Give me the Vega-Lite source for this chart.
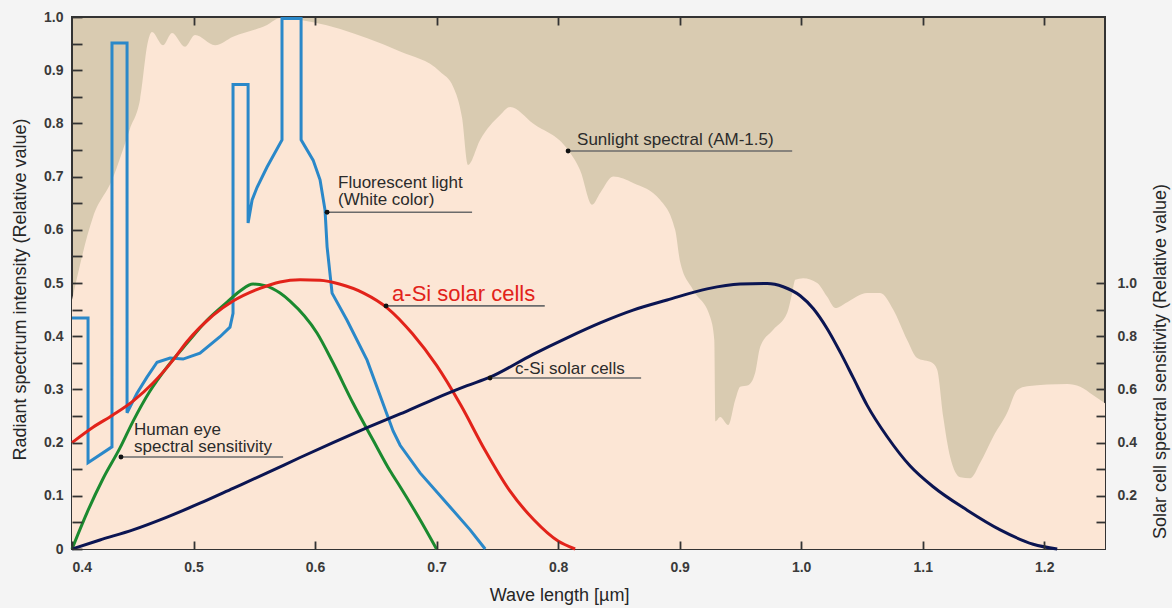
{
  "$schema": "https://vega.github.io/schema/vega-lite/v6.json",
  "width": 1033,
  "height": 532,
  "autosize": {"type": "none"},
  "padding": {"left": 72, "top": 17, "right": 67, "bottom": 59},
  "background": "#f4f4f4",
  "config": {
    "view": {"fill": "#d9cbb1", "stroke": "#333333", "strokeWidth": 2},
    "font": "Liberation Sans"
  },
  "datasets": {
    "sun": [
      {"w": 0.4, "v": 0.468}, {"w": 0.4173, "v": 0.624}, {"w": 0.433, "v": 0.694}, {"w": 0.4477, "v": 0.79},
      {"w": 0.456, "v": 0.845}, {"w": 0.4626, "v": 0.955}, {"w": 0.4658, "v": 0.972}, {"w": 0.4749, "v": 0.947},
      {"w": 0.4823, "v": 0.97}, {"w": 0.493, "v": 0.944}, {"w": 0.5012, "v": 0.966}, {"w": 0.5177, "v": 0.947},
      {"w": 0.5325, "v": 0.963}, {"w": 0.5605, "v": 0.985}, {"w": 0.5712, "v": 0.998}, {"w": 0.5984, "v": 0.99},
      {"w": 0.643, "v": 0.96}, {"w": 0.67, "v": 0.935}, {"w": 0.7029, "v": 0.897}, {"w": 0.7136, "v": 0.869},
      {"w": 0.721, "v": 0.81}, {"w": 0.7259, "v": 0.722}, {"w": 0.7358, "v": 0.769}, {"w": 0.7523, "v": 0.816},
      {"w": 0.7605, "v": 0.831}, {"w": 0.7794, "v": 0.8}, {"w": 0.8082, "v": 0.75}, {"w": 0.8181, "v": 0.712},
      {"w": 0.828, "v": 0.647}, {"w": 0.8346, "v": 0.669}, {"w": 0.8453, "v": 0.7}, {"w": 0.8617, "v": 0.688},
      {"w": 0.884, "v": 0.656}, {"w": 0.8963, "v": 0.6}, {"w": 0.9004, "v": 0.54}, {"w": 0.9111, "v": 0.487},
      {"w": 0.9251, "v": 0.436}, {"w": 0.9285, "v": 0.393}, {"w": 0.9295, "v": 0.24}, {"w": 0.9333, "v": 0.248},
      {"w": 0.94, "v": 0.233}, {"w": 0.9457, "v": 0.28}, {"w": 0.9498, "v": 0.305}, {"w": 0.9564, "v": 0.308},
      {"w": 0.9621, "v": 0.331}, {"w": 0.9663, "v": 0.38}, {"w": 0.977, "v": 0.412}, {"w": 0.9885, "v": 0.444},
      {"w": 0.9926, "v": 0.481}, {"w": 0.9951, "v": 0.506}, {"w": 1.0016, "v": 0.509}, {"w": 1.0132, "v": 0.5},
      {"w": 1.0214, "v": 0.474}, {"w": 1.028, "v": 0.453}, {"w": 1.0379, "v": 0.464}, {"w": 1.0543, "v": 0.481},
      {"w": 1.065, "v": 0.481}, {"w": 1.0757, "v": 0.45}, {"w": 1.0872, "v": 0.393}, {"w": 1.0955, "v": 0.359},
      {"w": 1.1078, "v": 0.35}, {"w": 1.1119, "v": 0.337}, {"w": 1.1169, "v": 0.248}, {"w": 1.1226, "v": 0.173},
      {"w": 1.1309, "v": 0.135}, {"w": 1.1391, "v": 0.133}, {"w": 1.1473, "v": 0.162}, {"w": 1.158, "v": 0.211},
      {"w": 1.1695, "v": 0.256}, {"w": 1.1778, "v": 0.299}, {"w": 1.186, "v": 0.306}, {"w": 1.2189, "v": 0.31},
      {"w": 1.2296, "v": 0.305}, {"w": 1.2403, "v": 0.289}, {"w": 1.25, "v": 0.274}
    ],
    "fl": [
      {"i": 1, "w": 0.4, "v": 0.434}, {"i": 2, "w": 0.4132, "v": 0.434}, {"i": 3, "w": 0.4132, "v": 0.162},
      {"i": 4, "w": 0.4329, "v": 0.192}, {"i": 5, "w": 0.4329, "v": 0.951}, {"i": 6, "w": 0.4453, "v": 0.951},
      {"i": 7, "w": 0.4453, "v": 0.256}, {"i": 8, "w": 0.4535, "v": 0.293}, {"i": 9, "w": 0.4617, "v": 0.323},
      {"i": 10, "w": 0.47, "v": 0.351}, {"i": 11, "w": 0.4807, "v": 0.359}, {"i": 12, "w": 0.4914, "v": 0.357},
      {"i": 13, "w": 0.5053, "v": 0.368}, {"i": 14, "w": 0.5218, "v": 0.399}, {"i": 15, "w": 0.53, "v": 0.417},
      {"i": 16, "w": 0.5325, "v": 0.443}, {"i": 17, "w": 0.5325, "v": 0.873}, {"i": 18, "w": 0.5449, "v": 0.873},
      {"i": 19, "w": 0.5449, "v": 0.613}, {"i": 20, "w": 0.5482, "v": 0.656}, {"i": 21, "w": 0.5523, "v": 0.68},
      {"i": 22, "w": 0.5605, "v": 0.718}, {"i": 23, "w": 0.5728, "v": 0.769}, {"i": 24, "w": 0.5728, "v": 0.997},
      {"i": 25, "w": 0.5885, "v": 0.997}, {"i": 26, "w": 0.5885, "v": 0.769}, {"i": 27, "w": 0.5984, "v": 0.731},
      {"i": 28, "w": 0.6041, "v": 0.694}, {"i": 29, "w": 0.6082, "v": 0.637}, {"i": 30, "w": 0.6099, "v": 0.568},
      {"i": 31, "w": 0.614, "v": 0.481}, {"i": 32, "w": 0.6263, "v": 0.43}, {"i": 33, "w": 0.6428, "v": 0.355},
      {"i": 34, "w": 0.6642, "v": 0.222}, {"i": 35, "w": 0.67, "v": 0.195}, {"i": 36, "w": 0.6864, "v": 0.143},
      {"i": 37, "w": 0.7111, "v": 0.079}, {"i": 38, "w": 0.7276, "v": 0.036}, {"i": 39, "w": 0.74, "v": 0}
    ],
    "eye": [
      {"w": 0.4, "v": 0}, {"w": 0.4123, "v": 0.068}, {"w": 0.4255, "v": 0.132}, {"w": 0.4395, "v": 0.19},
      {"w": 0.4502, "v": 0.24}, {"w": 0.4642, "v": 0.297}, {"w": 0.4782, "v": 0.342}, {"w": 0.4947, "v": 0.387},
      {"w": 0.5111, "v": 0.43}, {"w": 0.5276, "v": 0.464}, {"w": 0.5383, "v": 0.485}, {"w": 0.549, "v": 0.498},
      {"w": 0.5588, "v": 0.495}, {"w": 0.5712, "v": 0.481}, {"w": 0.5794, "v": 0.466}, {"w": 0.6016, "v": 0.406},
      {"w": 0.6148, "v": 0.35}, {"w": 0.6313, "v": 0.274}, {"w": 0.6477, "v": 0.205}, {"w": 0.6617, "v": 0.147},
      {"w": 0.67, "v": 0.117}, {"w": 0.6864, "v": 0.055}, {"w": 0.7, "v": 0}
    ],
    "asi": [
      {"w": 0.4, "r": 0.4}, {"w": 0.4173, "r": 0.458}, {"w": 0.4337, "r": 0.504}, {"w": 0.4502, "r": 0.556},
      {"w": 0.4667, "r": 0.624}, {"w": 0.4831, "r": 0.71}, {"w": 0.4947, "r": 0.78}, {"w": 0.516, "r": 0.878},
      {"w": 0.5325, "r": 0.932}, {"w": 0.5547, "r": 0.98}, {"w": 0.5712, "r": 1.004}, {"w": 0.5877, "r": 1.012},
      {"w": 0.6041, "r": 1.01}, {"w": 0.62, "r": 0.996}, {"w": 0.64, "r": 0.962}, {"w": 0.66, "r": 0.904},
      {"w": 0.68, "r": 0.81}, {"w": 0.7, "r": 0.69}, {"w": 0.72, "r": 0.54}, {"w": 0.74, "r": 0.37},
      {"w": 0.76, "r": 0.22}, {"w": 0.78, "r": 0.11}, {"w": 0.8, "r": 0.03}, {"w": 0.814, "r": 0}
    ],
    "csi": [
      {"w": 0.4, "r": 0}, {"w": 0.423, "r": 0.034}, {"w": 0.4502, "r": 0.072}, {"w": 0.4782, "r": 0.12},
      {"w": 0.5053, "r": 0.172}, {"w": 0.5325, "r": 0.228}, {"w": 0.5605, "r": 0.286}, {"w": 0.5877, "r": 0.344},
      {"w": 0.6148, "r": 0.4}, {"w": 0.6428, "r": 0.456}, {"w": 0.67, "r": 0.508}, {"w": 0.6971, "r": 0.562},
      {"w": 0.7251, "r": 0.614}, {"w": 0.744, "r": 0.646}, {"w": 0.7794, "r": 0.732}, {"w": 0.8074, "r": 0.794},
      {"w": 0.8346, "r": 0.85}, {"w": 0.8617, "r": 0.898}, {"w": 0.8897, "r": 0.936}, {"w": 0.9226, "r": 0.978},
      {"w": 0.9498, "r": 0.996}, {"w": 0.972, "r": 0.998}, {"w": 0.9852, "r": 0.986}, {"w": 0.9992, "r": 0.952},
      {"w": 1.0099, "r": 0.904}, {"w": 1.0214, "r": 0.828}, {"w": 1.0321, "r": 0.74}, {"w": 1.0428, "r": 0.644},
      {"w": 1.0543, "r": 0.54}, {"w": 1.0708, "r": 0.422}, {"w": 1.0897, "r": 0.312}, {"w": 1.1086, "r": 0.234},
      {"w": 1.1366, "r": 0.146}, {"w": 1.1638, "r": 0.072}, {"w": 1.1909, "r": 0.018}, {"w": 1.2107, "r": 0}
    ],
    "ann": [
      {"k": "sun", "w": 0.8082, "w2": 0.9926, "v": 0.748},
      {"k": "fl", "w": 0.6099, "w2": 0.7292, "v": 0.633},
      {"k": "asi", "w": 0.6584, "w2": 0.789, "v": 0.457},
      {"k": "csi", "w": 0.744, "w2": 0.8683, "v": 0.3214},
      {"k": "eye", "w": 0.4403, "w2": 0.5737, "v": 0.173}
    ],
    "labels": [
      {"k": "sun", "t": "Sunlight spectral (AM-1.5)", "w": 0.8156, "v": 0.759},
      {"k": "fl", "t": "Fluorescent light", "w": 0.6189, "v": 0.6786},
      {"k": "fl", "t": "(White color)", "w": 0.6189, "v": 0.6466},
      {"k": "asi", "t": "a-Si solar cells", "w": 0.6634, "v": 0.466},
      {"k": "csi", "t": "c-Si solar cells", "w": 0.7646, "v": 0.329},
      {"k": "eye", "t": "Human eye", "w": 0.451, "v": 0.2143},
      {"k": "eye", "t": "spectral sensitivity", "w": 0.451, "v": 0.1823}
    ]
  },
  "resolve": {"scale": {"y": "independent"}, "axis": {"x": "independent", "y": "independent"}},
  "layer": [
    {
      "encoding": {
        "x": {
          "field": "w", "type": "quantitative",
          "scale": {"domain": [0.4, 1.25], "nice": false, "zero": false},
          "axis": {
            "orient": "bottom",
            "zindex": 1,
            "grid": false,
            "domain": false,
            "ticks": true,
            "tickColor": "#333333",
            "tickWidth": 1.8,
            "values": [0.4, 0.5, 0.6, 0.7, 0.8, 0.9, 1.0, 1.1, 1.2],
            "format": ".1f",
            "offset": -8,
            "tickSize": 8,
            "labelPadding": 11,
            "labelFont": "Liberation Sans",
            "labelFontSize": 14,
            "labelFontWeight": "bold",
            "labelColor": "#3a3a3a",
            "title": "Wave length [µm]",
            "titleFont": "Liberation Sans",
            "titleFontSize": 18,
            "titleFontWeight": "normal",
            "titleColor": "#262626",
            "titleX": 487,
            "titleY": 59,
            "titleBaseline": "alphabetic"
          }
        },
        "y": {
          "field": "v", "type": "quantitative",
          "scale": {"domain": [0, 1], "nice": false, "zero": false},
          "axis": {
            "orient": "left",
            "zindex": 1,
            "grid": false,
            "domain": false,
            "ticks": true,
            "tickColor": "#333333",
            "tickWidth": 1.8,
            "values": [0, 0.05, 0.1, 0.15, 0.2, 0.25, 0.3, 0.35, 0.4, 0.45, 0.5, 0.55, 0.6, 0.65, 0.7, 0.75, 0.8, 0.85, 0.9, 0.95, 1.0],
            "labelExpr": "datum.value == 0 ? '0' : (round(datum.value * 100) % 10 == 0 ? format(datum.value, '.1f') : '')",
            "offset": -10,
            "tickSize": 10,
            "labelPadding": 9,
            "labelFont": "Liberation Sans",
            "labelFontSize": 14,
            "labelFontWeight": "bold",
            "labelColor": "#3a3a3a",
            "title": "Radiant spectrum intensity (Relative value)",
            "titleFont": "Liberation Sans",
            "titleFontSize": 18,
            "titleFontWeight": "normal",
            "titleColor": "#262626",
            "titleAngle": -90,
            "titleX": -62,
            "titleY": 272,
            "titleAlign": "center",
            "titleBaseline": "middle"
          }
        }
      },
      "layer": [
        {"data": {"name": "sun"}, "mark": {"type": "area", "color": "#fce6d5", "interpolate": "monotone"}},
        {"data": {"name": "fl"}, "mark": {"type": "line", "color": "#2a88c9", "strokeWidth": 3, "strokeJoin": "miter"}, "encoding": {"order": {"field": "i", "type": "quantitative"}}},
        {"data": {"name": "eye"}, "mark": {"type": "line", "color": "#1b8a2f", "strokeWidth": 3, "interpolate": "monotone"}}
      ]
    },
    {
      "encoding": {
        "x": {
          "field": "w", "type": "quantitative",
          "scale": {"domain": [0.4, 1.25], "nice": false, "zero": false},
          "axis": {
            "orient": "top",
            "zindex": 1,
            "grid": false,
            "domain": false,
            "ticks": true,
            "tickColor": "#333333",
            "tickWidth": 1.8,
            "values": [0.5, 0.6, 0.7, 0.8, 0.9, 1.0, 1.1, 1.2],
            "labels": false,
            "offset": -8,
            "tickSize": 8,
            "title": null
          }
        },
        "y": {
          "field": "r", "type": "quantitative",
          "scale": {"domain": [0, 2], "nice": false, "zero": false},
          "axis": {
            "orient": "right",
            "zindex": 1,
            "grid": false,
            "domain": false,
            "ticks": true,
            "tickColor": "#333333",
            "tickWidth": 1.8,
            "values": [0.1, 0.2, 0.3, 0.4, 0.5, 0.6, 0.7, 0.8, 0.9, 1.0],
            "labelExpr": "round(datum.value * 10) % 2 == 0 ? format(datum.value, '.1f') : ''",
            "offset": -9,
            "tickSize": 9,
            "labelPadding": 12,
            "labelFont": "Liberation Sans",
            "labelFontSize": 14,
            "labelFontWeight": "bold",
            "labelColor": "#3a3a3a",
            "title": "Solar cell spectral sensitivity (Relative value)",
            "titleFont": "Liberation Sans",
            "titleFontSize": 18,
            "titleFontWeight": "normal",
            "titleColor": "#262626",
            "titleAngle": -90,
            "titleX": 64,
            "titleY": 344,
            "titleAlign": "center",
            "titleBaseline": "middle"
          }
        }
      },
      "layer": [
        {"data": {"name": "asi"}, "mark": {"type": "line", "color": "#e2231a", "strokeWidth": 3, "interpolate": "monotone"}},
        {"data": {"name": "csi"}, "mark": {"type": "line", "color": "#0b1552", "strokeWidth": 3, "interpolate": "monotone"}}
      ]
    },
    {
      "encoding": {
        "x": {"field": "w", "type": "quantitative", "scale": {"domain": [0.4, 1.25], "nice": false, "zero": false}, "axis": null},
        "y": {"field": "v", "type": "quantitative", "scale": {"domain": [0, 1], "nice": false, "zero": false}, "axis": null}
      },
      "layer": [
        {"data": {"name": "ann"}, "mark": {"type": "rule", "color": "#6b6b6b", "strokeWidth": 1.6}, "encoding": {"x2": {"field": "w2"}}},
        {"data": {"name": "ann"}, "mark": {"type": "point", "filled": true, "color": "#111111", "size": 24, "opacity": 1}},
        {
          "data": {"name": "labels"},
          "transform": [{"filter": "datum.k != 'asi'"}],
          "mark": {"type": "text", "align": "left", "baseline": "alphabetic", "fontSize": 17, "color": "#2b2b2b", "font": "Liberation Sans"},
          "encoding": {"text": {"field": "t"}}
        },
        {
          "data": {"name": "labels"},
          "transform": [{"filter": "datum.k == 'asi'"}],
          "mark": {"type": "text", "align": "left", "baseline": "alphabetic", "fontSize": 22, "color": "#e2231a", "font": "Liberation Sans"},
          "encoding": {"text": {"field": "t"}}
        }
      ]
    }
  ]
}
